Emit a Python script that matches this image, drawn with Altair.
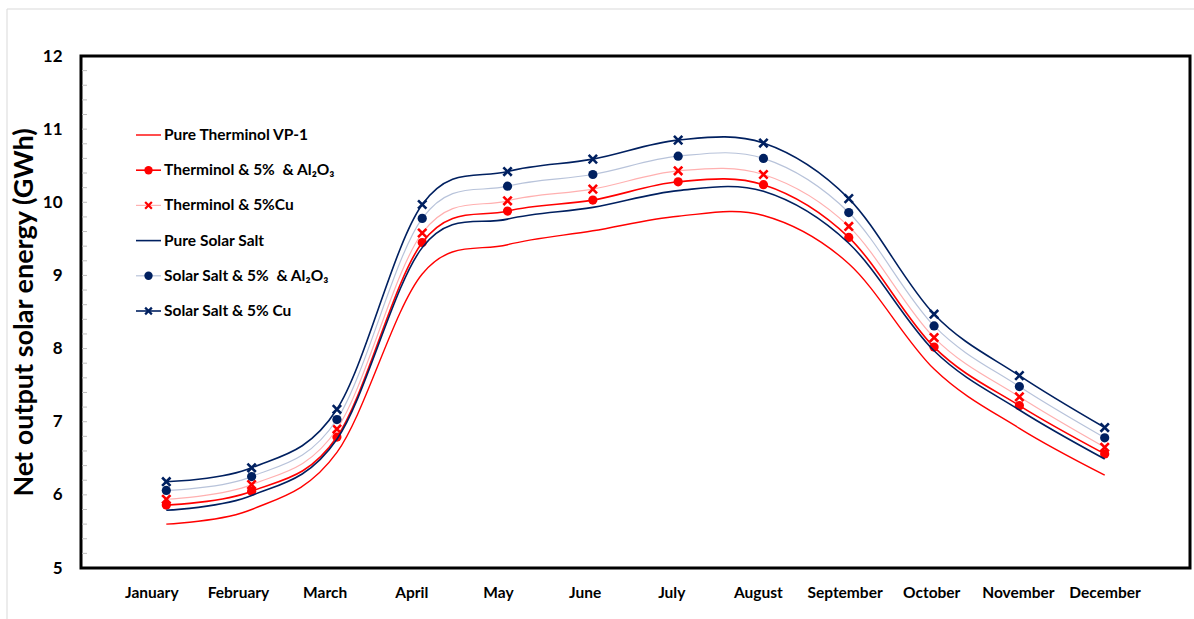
import altair as alt
import pandas as pd
import numpy as np

months = ["January", "February", "March", "April", "May", "June", "July",
          "August", "September", "October", "November", "December"]

series_names = [
    "Pure Therminol VP-1",
    "Therminol & 5%\u2002& Al\u2082O\u2083",
    "Therminol & 5%Cu",
    "Pure Solar Salt",
    "Solar Salt & 5%\u2002& Al\u2082O\u2083",
    "Solar Salt & 5% Cu",
]

pure_th = [5.60, 5.80, 6.58, 9.02, 9.42, 9.61, 9.81, 9.82, 9.16, 7.72, 6.91, 6.27]
th_al   = [5.86, 6.05, 6.79, 9.45, 9.88, 10.03, 10.28, 10.24, 9.52, 8.02, 7.22, 6.56]
th_cu   = [5.94, 6.14, 6.90, 9.58, 10.02, 10.18, 10.43, 10.38, 9.67, 8.15, 7.34, 6.65]
pure_ss = [5.79, 5.99, 6.76, 9.38, 9.77, 9.93, 10.16, 10.15, 9.44, 7.97, 7.16, 6.49]
ss_al   = [6.06, 6.25, 7.03, 9.78, 10.22, 10.38, 10.63, 10.60, 9.86, 8.31, 7.48, 6.78]
ss_cu   = [6.18, 6.37, 7.17, 9.97, 10.42, 10.59, 10.85, 10.81, 10.05, 8.47, 7.63, 6.92]

values = [pure_th, th_al, th_cu, pure_ss, ss_al, ss_cu]

RED = "#FF0000"
NAVY = "#002060"
styles = [
    dict(line=RED, width=1.4, marker=None, mcolor=None),
    dict(line=RED, width=1.6, marker="circle", mcolor=RED),
    dict(line="#FFB0B0", width=1.2, marker="x", mcolor=RED),
    dict(line=NAVY, width=1.6, marker=None, mcolor=None),
    dict(line="#B8C3DA", width=1.2, marker="circle", mcolor=NAVY),
    dict(line=NAVY, width=1.6, marker="x", mcolor=NAVY),
]
XPATH = "M-1,-1L1,1M-1,1L1,-1"

rows = []
for name, vals in zip(series_names, values):
    for i, v in enumerate(vals):
        rows.append({"series": name, "m": i, "v": v})
df = pd.DataFrame(rows)

FONT = "Lato"
month_expr = "[" + ",".join("'" + m + "'" for m in months) + "][datum.value]"

xenc = alt.X("m:Q", scale=alt.Scale(domain=[-1, 12], nice=False, zero=False),
             axis=alt.Axis(values=list(range(12)), labelExpr=month_expr, title=None,
                           ticks=False, domain=False, grid=False, labelFont=FONT,
                           labelFontWeight="bold", labelFontSize=15.5, labelColor="black",
                           labelPadding=17,
                           labelOffset=alt.ExprRef("-15 + datum.value * 1.35"),
                           labelOverlap=False, labelBound=False))
yaxis = alt.Axis(values=list(range(5, 13)), title="Net output solar energy (GWh)",
                 ticks=False, domain=False, grid=False, labelFont=FONT,
                 labelFontWeight="bold", labelFontSize=17, labelColor="black",
                 labelPadding=19, titleFont=FONT, titleFontWeight="bold",
                 titleFontSize=27, titleColor="black", titleAngle=270,
                 titleX=-57, titleY=256, titleAlign="center",
                 titleBaseline="middle")
yscale = alt.Scale(domain=[5, 12], nice=False, zero=False)
yenc = alt.Y("v:Q", scale=yscale, axis=yaxis)

base = alt.Chart(df)
layers = []

# minor ticks on y axis (carries the y axis)
minor = pd.DataFrame({"v": np.round(np.arange(5.2, 12.0, 0.2), 1)})
layers.append(alt.Chart(minor).mark_rule(color="#BFBFBF", strokeWidth=1).encode(
    y=yenc, x=alt.value(1), x2=alt.value(6)))

# outer light border of the chart area
frame = alt.Chart(pd.DataFrame({"a": [0]})).mark_rect(
    fill="white", fillOpacity=0, stroke="#D9D9D9", strokeWidth=1
).encode(x=alt.value(-74), x2=alt.value(1300), y=alt.value(-47), y2=alt.value(700))
layers.append(frame)

for name, st in zip(series_names, styles):
    sub = base.transform_filter(alt.datum.series == name)
    layers.append(sub.mark_line(color=st["line"], strokeWidth=st["width"],
                                interpolate="cardinal").encode(x=xenc, y=yenc))
    if st["marker"] == "circle":
        layers.append(sub.mark_point(shape="circle", filled=True, color=st["mcolor"],
                                     size=85, opacity=1).encode(x=xenc, y=yenc))
    elif st["marker"] == "x":
        layers.append(sub.mark_point(shape=XPATH, filled=False, color=st["mcolor"],
                                     size=70, strokeWidth=2.6, opacity=1).encode(x=xenc, y=yenc))

# custom legend
one = pd.DataFrame({"a": [0]})
for i, (name, st) in enumerate(zip(series_names, styles)):
    yy = 79 + 35.2 * i
    layers.append(alt.Chart(one).mark_rule(color=st["line"], strokeWidth=st["width"]).encode(
        x=alt.value(55), x2=alt.value(80), y=alt.value(yy)))
    if st["marker"] == "circle":
        layers.append(alt.Chart(one).mark_point(shape="circle", filled=True, color=st["mcolor"],
                                                size=70, opacity=1).encode(
            x=alt.value(67.5), y=alt.value(yy)))
    elif st["marker"] == "x":
        layers.append(alt.Chart(one).mark_point(shape=XPATH, filled=False, color=st["mcolor"],
                                                size=45, strokeWidth=2.2, opacity=1).encode(
            x=alt.value(67.5), y=alt.value(yy)))
    layers.append(alt.Chart(one).mark_text(align="left", baseline="middle", font=FONT,
                                           fontWeight="bold", fontSize=15.5, color="black").encode(
        x=alt.value(83), y=alt.value(yy), text=alt.value(name)))

chart = alt.layer(*layers).properties(
    width=1109, height=512,
    autosize=alt.AutoSizeParams(type="none"),
    padding={"left": 81, "top": 56, "right": 4, "bottom": 51},
    background="white",
).configure_view(stroke="black", strokeWidth=3)

chart.save("out.html", embed_options={"renderer": "svg", "actions": False})
